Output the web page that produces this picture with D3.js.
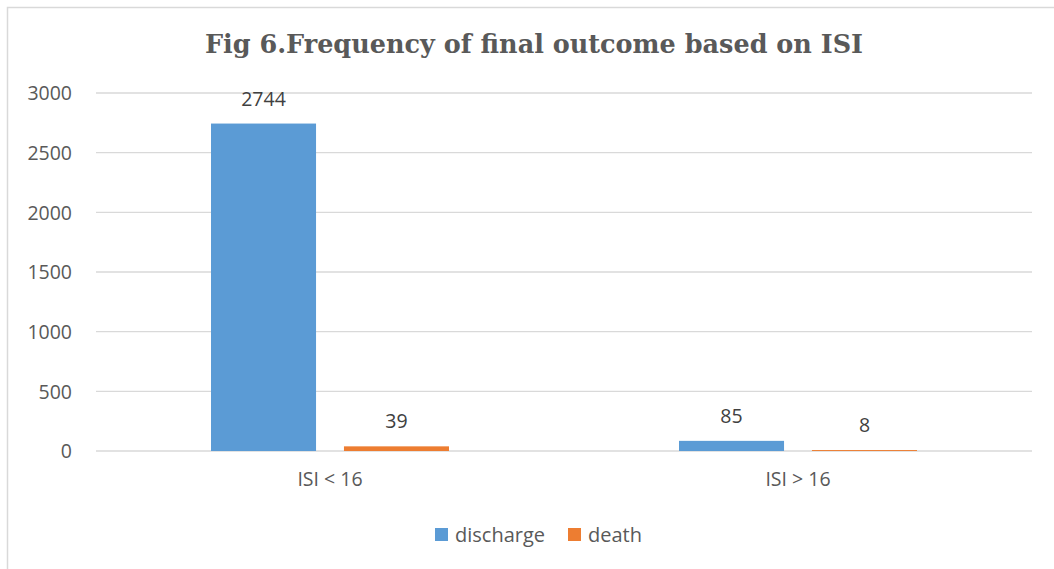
<!DOCTYPE html>
<html>
<head>
<meta charset="utf-8">
<script src="https://cdn.jsdelivr.net/npm/d3@7"></script>
<style>
  html, body { margin: 0; padding: 0; background: #fff; }
  svg { display: block; }
</style>
</head>
<body>
<svg id="chart" width="1054" height="569"></svg>
<script>
// Frequency of final outcome grouped by ISI
const categories = ["ISI < 16", "ISI > 16"];
const seriesNames = ["discharge", "death"];
const discharge = [2744, 85];
const death = [39, 8];
const yTicks = [0, 500, 1000, 1500, 2000, 2500, 3000];
const colors = ["#5b9bd5", "#ed7d31"];

const svg = d3.select("#chart");
const W = 1054, H = 569;
const plot = { left: 96, right: 1032, top: 93, bottom: 451 };
const textColor = "#595959";
const font = "'Open Sans', 'Liberation Sans', sans-serif";
const labelSize = 19.5;

// chart frame
svg.append("rect")
  .attr("x", 7.5).attr("y", 7.5)
  .attr("width", W + 10).attr("height", H + 10)
  .attr("fill", "#fff").attr("stroke", "#d9d9d9").attr("stroke-width", 1.5);

svg.append("text")
  .attr("x", 534).attr("y", 53)
  .attr("text-anchor", "middle")
  .attr("font-family", "'DejaVu Serif', Georgia, serif")
  .attr("font-weight", "bold")
  .attr("font-size", 25.5)
  .attr("fill", textColor)
  .text("Fig 6.Frequency of final outcome based on ISI");

const x0 = d3.scaleBand().domain(categories)
  .range([plot.left, plot.right]).paddingInner(0).paddingOuter(0);
const x1 = d3.scaleBand().domain(seriesNames)
  .range([115, x0.bandwidth() - 115]).paddingInner(0.21);
const y = d3.scaleLinear().domain([0, 3000]).range([plot.bottom, plot.top]);

// gridlines
svg.append("g")
  .selectAll("line").data(yTicks).join("line")
  .attr("x1", plot.left).attr("x2", plot.right)
  .attr("y1", d => y(d)).attr("y2", d => y(d))
  .attr("stroke", "#d9d9d9").attr("stroke-width", 1.3);

// y axis labels
const yAxis = d3.axisLeft(y).tickValues(yTicks).tickFormat(d3.format("d"))
  .tickSize(0).tickPadding(0);
const gy = svg.append("g").attr("transform", `translate(${plot.left - 24},0)`).call(yAxis);
gy.select(".domain").remove();
gy.selectAll("text")
  .attr("font-family", font).attr("font-size", labelSize).attr("fill", textColor)
  .attr("dy", "0.35em");

// x axis labels
const xAxis = d3.axisBottom(x0).tickSize(0).tickPadding(0);
const gx = svg.append("g").attr("transform", `translate(0,${plot.bottom + 21})`).call(xAxis);
gx.select(".domain").remove();
gx.selectAll("text")
  .attr("font-family", font).attr("font-size", labelSize).attr("fill", textColor)
  .attr("dy", "0.7em");

const rows = categories.map((c, i) => ({
  cat: c,
  vals: [{ s: "discharge", v: discharge[i] }, { s: "death", v: death[i] }]
}));

const groups = svg.append("g").selectAll("g").data(rows).join("g")
  .attr("transform", d => `translate(${x0(d.cat)},0)`);

groups.selectAll("rect").data(d => d.vals).join("rect")
  .attr("x", d => x1(d.s))
  .attr("width", x1.bandwidth())
  .attr("y", d => y(d.v))
  .attr("height", d => y(0) - y(d.v))
  .attr("fill", (d, i) => colors[i]);

groups.selectAll("text.val").data(d => d.vals).join("text")
  .attr("class", "val")
  .attr("x", d => x1(d.s) + x1.bandwidth() / 2)
  .attr("y", d => y(d.v) - 18)
  .attr("text-anchor", "middle")
  .attr("font-family", font).attr("font-size", labelSize).attr("fill", "#404040")
  .text(d => d.v);

// legend
const legend = svg.append("g").attr("transform", "translate(435,535)");
const items = [{ name: "discharge", x: 0 }, { name: "death", x: 133 }];
items.forEach((it, i) => {
  legend.append("rect").attr("x", it.x).attr("y", -7).attr("width", 13).attr("height", 13)
    .attr("fill", colors[i]);
  legend.append("text").attr("x", it.x + 20).attr("y", 0).attr("dy", "0.35em")
    .attr("font-family", font).attr("font-size", 20).attr("fill", textColor)
    .text(it.name);
});
</script>
</body>
</html>
